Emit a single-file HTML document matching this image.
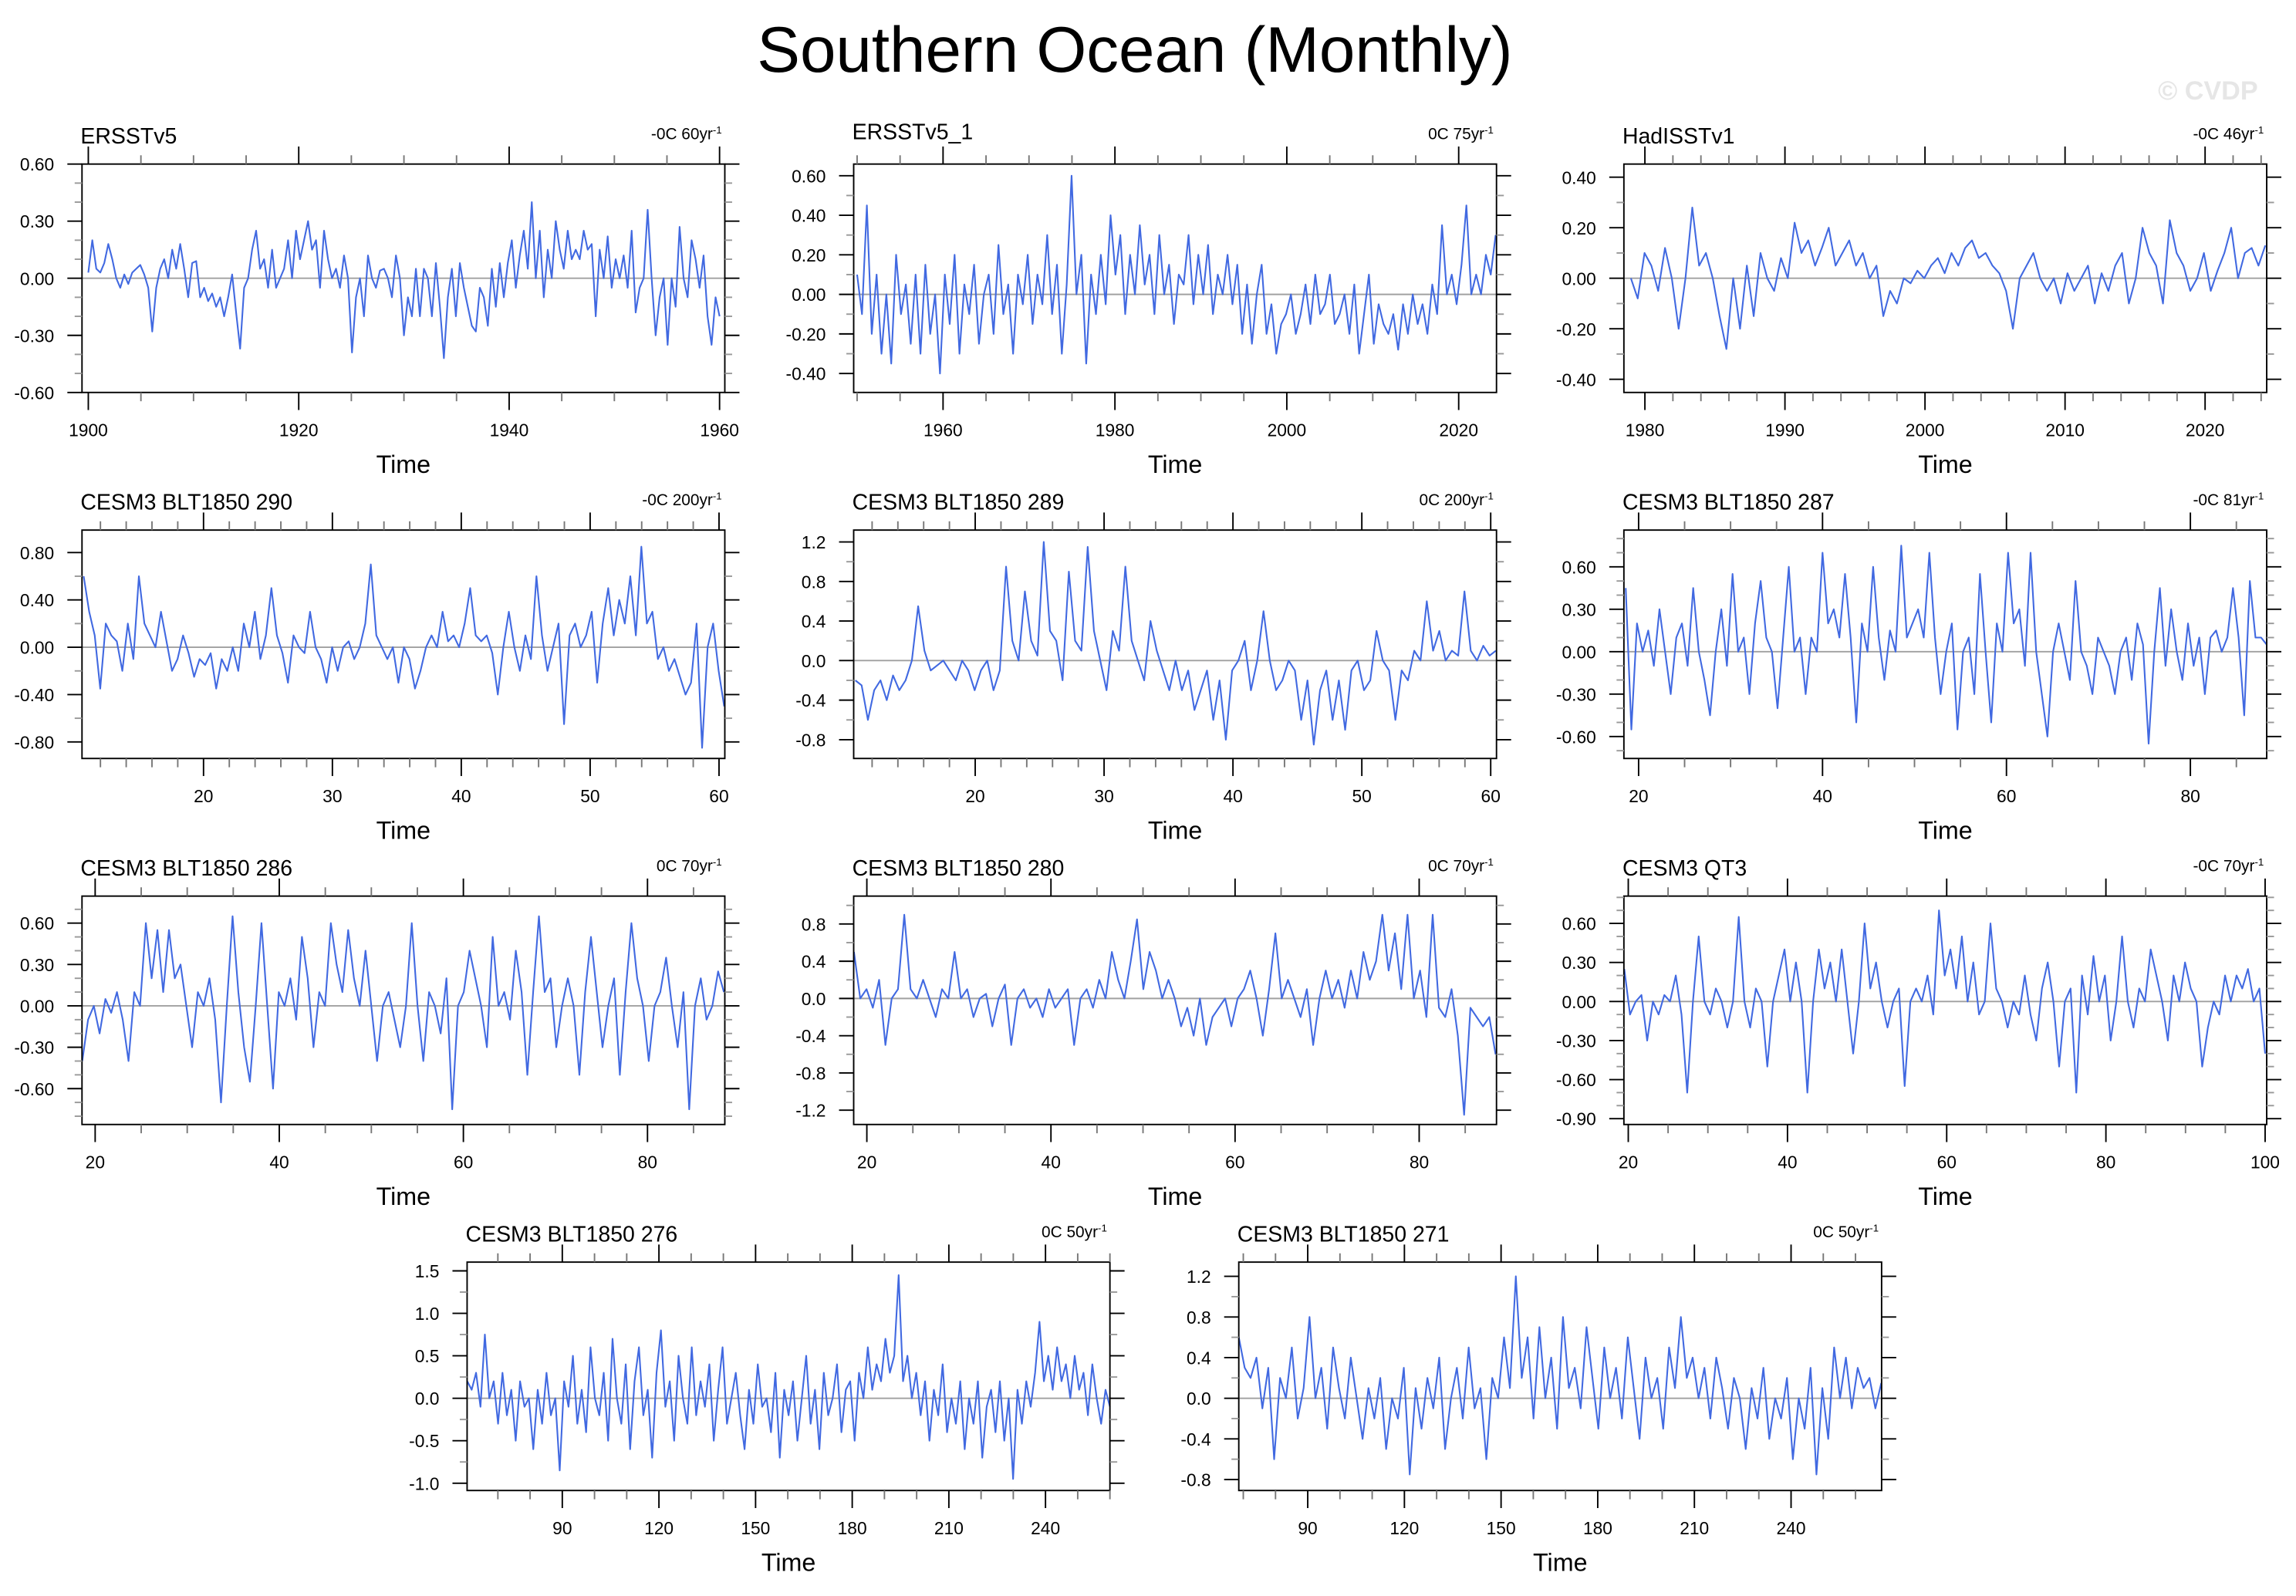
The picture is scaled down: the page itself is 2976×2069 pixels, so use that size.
<!DOCTYPE html>
<html><head><meta charset="utf-8"><style>
html,body{margin:0;padding:0;background:#fff;}
svg{display:block;font-family:"Liberation Sans",sans-serif;}
</style></head><body>
<svg id="fig" width="2976" height="2069" viewBox="0 0 1568 1090" xmlns="http://www.w3.org/2000/svg">
<rect width="1568" height="1090" fill="#fff"/>
<text x="775" y="49" text-anchor="middle" font-size="44">Southern Ocean (Monthly)</text>
<text x="1542" y="68" text-anchor="end" font-size="18" font-weight="bold" fill="#e6e6e6">© CVDP</text>
<g id="panels"></g>
</svg>
<script>
// ---- data arrays ----
const p1Values=[0.03,0.2,0.05,0.03,0.08,0.18,0.1,0.0,-0.05,0.02,-0.03,0.03,0.05,0.07,0.02,-0.05,-0.28,-0.05,0.05,0.1,0.0,0.15,0.05,0.18,0.05,-0.1,0.08,0.09,-0.1,-0.05,-0.12,-0.08,-0.15,-0.1,-0.2,-0.1,0.02,-0.18,-0.37,-0.05,0.0,0.15,0.25,0.05,0.1,-0.05,0.15,-0.05,0.0,0.05,0.2,0.0,0.25,0.1,0.2,0.3,0.15,0.2,-0.05,0.25,0.1,0.0,0.05,-0.05,0.12,0.0,-0.39,-0.1,0.0,-0.2,0.12,0.0,-0.05,0.04,0.05,0.0,-0.1,0.12,0.0,-0.3,-0.1,-0.2,0.05,-0.2,0.05,0.0,-0.2,0.08,-0.15,-0.42,-0.1,0.05,-0.2,0.08,-0.05,-0.15,-0.25,-0.28,-0.05,-0.1,-0.25,0.05,-0.15,0.08,-0.1,0.08,0.2,-0.05,0.12,0.25,0.05,0.4,0.0,0.25,-0.1,0.15,0.0,0.3,0.15,0.05,0.25,0.1,0.15,0.1,0.25,0.15,0.18,-0.2,0.15,0.0,0.22,-0.05,0.1,0.0,0.12,-0.05,0.25,-0.18,-0.05,0.0,0.36,0.0,-0.3,-0.1,0.0,-0.35,0.0,-0.15,0.27,0.0,-0.1,0.2,0.1,-0.05,0.12,-0.2,-0.35,-0.1,-0.2];
const p2Values=[0.1,-0.1,0.45,-0.2,0.1,-0.3,0.0,-0.35,0.2,-0.1,0.05,-0.25,0.1,-0.3,0.15,-0.2,0.0,-0.4,0.1,-0.15,0.2,-0.3,0.05,-0.1,0.15,-0.25,0.0,0.1,-0.2,0.25,-0.1,0.05,-0.3,0.1,-0.05,0.2,-0.15,0.1,-0.05,0.3,-0.1,0.15,-0.3,0.05,0.6,0.0,0.2,-0.35,0.1,-0.1,0.2,-0.05,0.4,0.1,0.3,-0.1,0.2,0.0,0.35,0.05,0.2,-0.1,0.3,0.0,0.15,-0.15,0.1,0.05,0.3,-0.05,0.2,0.0,0.25,-0.1,0.1,0.0,0.2,-0.05,0.15,-0.2,0.05,-0.25,0.0,0.15,-0.2,-0.05,-0.3,-0.15,-0.1,0.0,-0.2,-0.1,0.05,-0.15,0.1,-0.1,-0.05,0.1,-0.15,-0.1,0.0,-0.2,0.05,-0.3,-0.1,0.1,-0.25,-0.05,-0.15,-0.2,-0.1,-0.28,-0.05,-0.2,0.0,-0.15,-0.05,-0.2,0.05,-0.1,0.35,0.0,0.1,-0.05,0.15,0.45,0.0,0.1,0.0,0.2,0.1,0.3];
const p3Values=[0.0,-0.08,0.1,0.05,-0.05,0.12,0.0,-0.2,0.0,0.28,0.05,0.1,0.0,-0.15,-0.28,0.0,-0.2,0.05,-0.15,0.1,0.0,-0.05,0.08,0.0,0.22,0.1,0.15,0.05,0.12,0.2,0.05,0.1,0.15,0.05,0.1,0.0,0.05,-0.15,-0.05,-0.1,0.0,-0.02,0.03,0.0,0.05,0.08,0.02,0.1,0.05,0.12,0.15,0.08,0.1,0.05,0.02,-0.05,-0.2,0.0,0.05,0.1,0.0,-0.05,0.0,-0.1,0.02,-0.05,0.0,0.05,-0.1,0.02,-0.05,0.05,0.1,-0.1,0.0,0.2,0.1,0.05,-0.1,0.23,0.1,0.05,-0.05,0.0,0.1,-0.05,0.03,0.1,0.2,0.0,0.1,0.12,0.05,0.13];
const p4Values=[0.6,0.3,0.1,-0.35,0.2,0.1,0.05,-0.2,0.2,-0.1,0.6,0.2,0.1,0.0,0.3,0.05,-0.2,-0.1,0.1,-0.05,-0.25,-0.1,-0.15,-0.05,-0.35,-0.1,-0.2,0.0,-0.2,0.2,0.0,0.3,-0.1,0.1,0.5,0.1,-0.05,-0.3,0.1,0.0,-0.05,0.3,0.0,-0.1,-0.3,0.0,-0.2,0.0,0.05,-0.1,0.0,0.2,0.7,0.1,0.0,-0.1,0.0,-0.3,0.0,-0.1,-0.35,-0.2,0.0,0.1,0.0,0.3,0.05,0.1,0.0,0.2,0.5,0.1,0.05,0.1,-0.05,-0.4,0.0,0.3,0.0,-0.2,0.1,-0.1,0.6,0.1,-0.2,0.0,0.2,-0.65,0.1,0.2,0.0,0.1,0.3,-0.3,0.2,0.5,0.1,0.4,0.2,0.6,0.1,0.85,0.2,0.3,-0.1,0.0,-0.2,-0.1,-0.25,-0.4,-0.3,0.2,-0.85,0.0,0.2,-0.2,-0.5];
const p5Values=[-0.2,-0.25,-0.6,-0.3,-0.2,-0.4,-0.15,-0.3,-0.2,0.0,0.55,0.1,-0.1,-0.05,0.0,-0.1,-0.2,0.0,-0.1,-0.3,-0.1,0.0,-0.3,-0.1,0.95,0.2,0.0,0.7,0.2,0.05,1.2,0.3,0.2,-0.2,0.9,0.2,0.1,1.15,0.3,0.0,-0.3,0.3,0.1,0.95,0.2,0.0,-0.2,0.4,0.1,-0.1,-0.3,0.0,-0.3,-0.1,-0.5,-0.3,-0.1,-0.6,-0.2,-0.8,-0.1,0.0,0.2,-0.3,0.0,0.5,0.0,-0.3,-0.2,0.0,-0.1,-0.6,-0.2,-0.85,-0.3,-0.1,-0.6,-0.2,-0.7,-0.1,0.0,-0.3,-0.2,0.3,0.0,-0.1,-0.6,-0.1,-0.2,0.1,0.0,0.6,0.1,0.3,0.0,0.1,0.05,0.7,0.1,0.0,0.15,0.05,0.1];
const p6Values=[0.45,-0.55,0.2,0.0,0.15,-0.1,0.3,0.0,-0.3,0.1,0.2,-0.1,0.45,0.0,-0.2,-0.45,0.0,0.3,-0.1,0.55,0.0,0.1,-0.3,0.2,0.5,0.1,0.0,-0.4,0.1,0.6,0.0,0.1,-0.3,0.1,0.0,0.7,0.2,0.3,0.1,0.55,0.1,-0.5,0.2,0.0,0.6,0.1,-0.2,0.15,0.0,0.75,0.1,0.2,0.3,0.1,0.7,0.1,-0.3,0.0,0.2,-0.55,0.0,0.1,-0.3,0.55,0.0,-0.5,0.2,0.0,0.7,0.2,0.3,-0.1,0.7,0.0,-0.3,-0.6,0.0,0.2,0.0,-0.2,0.5,0.0,-0.1,-0.3,0.1,0.0,-0.1,-0.3,0.0,0.1,-0.2,0.2,0.05,-0.65,0.0,0.45,-0.1,0.3,0.0,-0.2,0.2,-0.1,0.1,-0.3,0.1,0.15,0.0,0.1,0.45,0.1,-0.45,0.5,0.1,0.1,0.05];
const p7Values=[-0.4,-0.1,0.0,-0.2,0.05,-0.05,0.1,-0.1,-0.4,0.1,0.0,0.6,0.2,0.55,0.1,0.55,0.2,0.3,0.0,-0.3,0.1,0.0,0.2,-0.1,-0.7,0.0,0.65,0.1,-0.3,-0.55,0.0,0.6,0.0,-0.6,0.1,0.0,0.2,-0.1,0.5,0.2,-0.3,0.1,0.0,0.6,0.3,0.1,0.55,0.2,0.0,0.4,0.0,-0.4,0.0,0.1,-0.1,-0.3,0.0,0.6,0.0,-0.4,0.1,0.0,-0.2,0.2,-0.75,0.0,0.1,0.4,0.2,0.0,-0.3,0.5,0.0,0.1,-0.1,0.4,0.1,-0.5,0.1,0.65,0.1,0.2,-0.3,0.0,0.2,0.0,-0.5,0.1,0.5,0.1,-0.3,0.0,0.2,-0.5,0.1,0.6,0.2,0.0,-0.4,0.0,0.1,0.35,0.0,-0.3,0.1,-0.75,0.0,0.2,-0.1,0.0,0.25,0.1];
const p8Values=[0.5,0.0,0.1,-0.1,0.2,-0.5,0.0,0.1,0.9,0.1,0.0,0.2,0.0,-0.2,0.1,0.0,0.5,0.0,0.1,-0.2,0.0,0.05,-0.3,0.0,0.15,-0.5,0.0,0.1,-0.1,0.0,-0.2,0.1,-0.1,0.0,0.1,-0.5,0.0,0.1,-0.1,0.2,0.0,0.5,0.2,0.0,0.4,0.85,0.1,0.5,0.3,0.0,0.2,0.0,-0.3,-0.1,-0.4,0.0,-0.5,-0.2,-0.1,0.0,-0.3,0.0,0.1,0.3,0.0,-0.4,0.1,0.7,0.0,0.2,0.0,-0.2,0.1,-0.5,0.0,0.3,0.0,0.2,-0.1,0.3,0.0,0.5,0.2,0.4,0.9,0.3,0.7,0.1,0.9,0.0,0.3,-0.2,0.9,-0.1,-0.2,0.1,-0.4,-1.25,-0.1,-0.2,-0.3,-0.2,-0.6];
const p9Values=[0.25,-0.1,0.0,0.05,-0.3,0.0,-0.1,0.05,0.0,0.2,-0.1,-0.7,0.0,0.5,0.0,-0.1,0.1,0.0,-0.2,0.0,0.65,0.0,-0.2,0.1,0.0,-0.5,0.0,0.2,0.4,0.0,0.3,0.0,-0.7,0.0,0.4,0.1,0.3,0.0,0.4,0.0,-0.4,0.0,0.6,0.1,0.3,0.0,-0.2,0.0,0.1,-0.65,0.0,0.1,0.0,0.2,-0.1,0.7,0.2,0.4,0.1,0.5,0.0,0.3,-0.1,0.0,0.6,0.1,0.0,-0.2,0.0,-0.1,0.2,-0.1,-0.3,0.1,0.3,0.0,-0.5,0.0,0.1,-0.7,0.2,-0.1,0.35,0.0,0.2,-0.3,0.0,0.5,0.0,-0.2,0.1,0.0,0.4,0.2,0.0,-0.3,0.2,0.0,0.3,0.1,0.0,-0.5,-0.2,0.0,-0.1,0.2,0.0,0.2,0.1,0.25,0.0,0.1,-0.4];
const p10Values=[0.2,0.1,0.3,-0.1,0.75,0.0,0.2,-0.3,0.3,-0.2,0.1,-0.5,0.2,-0.1,0.0,-0.6,0.1,-0.3,0.3,-0.2,0.0,-0.85,0.2,-0.1,0.5,-0.3,0.1,-0.4,0.6,0.0,-0.2,0.3,-0.5,0.7,0.0,-0.3,0.4,-0.6,0.2,0.6,-0.2,0.1,-0.7,0.3,0.8,-0.1,0.2,-0.5,0.5,0.0,-0.3,0.6,-0.2,0.2,-0.1,0.4,-0.5,0.1,0.6,-0.3,0.0,0.3,-0.2,-0.6,0.1,-0.3,0.4,-0.1,0.0,-0.4,0.3,-0.7,0.1,-0.2,0.2,-0.5,0.0,0.5,-0.3,0.1,-0.6,0.3,-0.2,0.0,0.4,-0.4,0.1,0.2,-0.5,0.3,0.0,0.6,0.1,0.4,0.2,0.7,0.3,0.5,1.45,0.2,0.5,0.0,0.3,-0.2,0.2,-0.5,0.1,-0.2,0.4,-0.4,0.0,-0.3,0.2,-0.6,0.0,-0.3,0.2,-0.7,-0.1,0.1,-0.4,0.2,-0.5,0.0,-0.95,0.1,-0.3,0.2,-0.1,0.3,0.9,0.2,0.5,0.1,0.6,0.2,0.4,0.0,0.5,0.1,0.3,-0.2,0.4,0.0,-0.3,0.1,-0.1];
const p11Values=[0.6,0.3,0.2,0.4,-0.1,0.3,-0.6,0.2,0.0,0.5,-0.2,0.1,0.8,0.0,0.3,-0.3,0.5,0.1,-0.2,0.4,0.0,-0.4,0.1,-0.2,0.2,-0.5,0.0,-0.2,0.3,-0.75,0.1,-0.3,0.2,-0.1,0.4,-0.5,0.0,0.3,-0.2,0.5,-0.1,0.1,-0.6,0.2,0.0,0.6,0.1,1.2,0.2,0.6,-0.2,0.7,0.0,0.4,-0.3,0.8,0.1,0.3,-0.1,0.7,0.2,-0.3,0.5,0.0,0.3,-0.2,0.6,0.1,-0.4,0.4,0.0,0.2,-0.3,0.5,0.1,0.8,0.2,0.4,0.0,0.3,-0.2,0.4,0.1,-0.3,0.2,0.0,-0.5,0.1,-0.2,0.3,-0.4,0.0,-0.2,0.2,-0.6,0.0,-0.3,0.3,-0.75,0.1,-0.4,0.5,0.0,0.4,-0.1,0.3,0.1,0.2,-0.1,0.15];

const panelNames=["ERSSTv5","ERSSTv5_1","HadISSTv1","CESM3 BLT1850 290","CESM3 BLT1850 289","CESM3 BLT1850 287","CESM3 BLT1850 286","CESM3 BLT1850 280","CESM3 QT3","CESM3 BLT1850 276","CESM3 BLT1850 271"];
const trendLabels=["-0C 60yr","0C 75yr","-0C 46yr","-0C 200yr","0C 200yr","-0C 81yr","0C 70yr","0C 70yr","-0C 70yr","0C 50yr","0C 50yr"];
const seriesValues=[p1Values,p2Values,p3Values,p4Values,p5Values,p6Values,p7Values,p8Values,p9Values,p10Values,p11Values];
const seriesStart=[1900,1950,1979,10.7,10.7,18.6,18.6,18.6,19.5,60.5,68.6];
const seriesEnd=[1960,2024.3,2024.3,60.4,60.4,88.3,88.3,88.3,100,260,268];
const xDomains=[[1899.4,1960.5],[1949.6,2024.4],[1978.5,2024.4],[10.57,60.45],[10.57,60.45],[18.4,88.3],[18.57,88.4],[18.57,88.4],[19.45,100.2],[60.45,260],[68.6,268.1]];
const yDomains=[[-0.6,0.6],[-0.496,0.659],[-0.452,0.452],[-0.94,0.99],[-0.99,1.32],[-0.755,0.86],[-0.86,0.796],[-1.354,1.10],[-0.945,0.81],[-1.086,1.603],[-0.908,1.34]];
const xTickLabels=[[1900,1920,1940,1960],[1960,1980,2000,2020],[1980,1990,2000,2010,2020],[20,30,40,50,60],[20,30,40,50,60],[20,40,60,80],[20,40,60,80],[20,40,60,80],[20,40,60,80,100],[90,120,150,180,210,240],[90,120,150,180,210,240]];
const xMinorSteps=[5,5,2,2,2,5,5,5,5,10,10];
const yTickLabels=[["0.60","0.30","0.00","-0.30","-0.60"],["0.60","0.40","0.20","0.00","-0.20","-0.40"],["0.40","0.20","0.00","-0.20","-0.40"],["0.80","0.40","0.00","-0.40","-0.80"],["1.2","0.8","0.4","0.0","-0.4","-0.8"],["0.60","0.30","0.00","-0.30","-0.60"],["0.60","0.30","0.00","-0.30","-0.60"],["0.8","0.4","0.0","-0.4","-0.8","-1.2"],["0.60","0.30","0.00","-0.30","-0.60","-0.90"],["1.5","1.0","0.5","0.0","-0.5","-1.0"],["1.2","0.8","0.4","0.0","-0.4","-0.8"]];
const yMinorSteps=[0.1,0.1,0.1,0.2,0.2,0.1,0.1,0.2,0.1,0.25,0.2];

// layout (box positions)
const boxX=[56,583,1109,56,583,1109,56,583,1109,319,846];
const boxY=[112,112,112,362,362,362,612,612,612,862,862];
const titleDy=[14,17,14,14,14,14,14,14,14,14,14];
const BW=439,BH=156;
const NS="http://www.w3.org/2000/svg";
const root=document.getElementById('panels');
function mk(tag,attrs,parent){const e=document.createElementNS(NS,tag);for(const k in attrs)e.setAttribute(k,attrs[k]);parent.appendChild(e);return e;}

for(let i=0;i<panelNames.length;i++){
  const bx=boxX[i],by=boxY[i];
  const [x0,x1]=xDomains[i],[y0,y1]=yDomains[i];
  const sx=v=>bx+(v-x0)/(x1-x0)*BW;
  const sy=v=>by+BH-(v-y0)/(y1-y0)*BH;
  const g=mk('g',{},root);
  
  
  const t=mk('text',{x:bx-1,y:by-titleDy[i],'font-size':15},g);t.textContent=panelNames[i];
  
  
  const tr=mk('text',{x:bx+BW-2,y:by-17,'font-size':11,'text-anchor':'end'},g);
  
  
  tr.appendChild(document.createTextNode(trendLabels[i]));
  const sup=mk('tspan',{dy:-4,'font-size':7},tr);sup.textContent='-1';
  const zl=mk('line',{x1:bx,x2:bx+BW,y1:sy(0),y2:sy(0),stroke:'#a0a0a0','stroke-width':1},g);
  
  
  const vals=seriesValues[i],n=vals.length,s0=seriesStart[i],s1=seriesEnd[i];
  let d='';
  for(let k=0;k<n;k++){const xv=s0+(s1-s0)*k/(n-1);d+=(k?'L':'M')+sx(xv).toFixed(2)+','+sy(vals[k]).toFixed(2);}
  const pl=mk('path',{d:d,fill:'none',stroke:'#4169e1','stroke-width':1.1,'stroke-linejoin':'round'},g);
  
  
  const bxr=mk('rect',{x:bx,y:by,width:BW,height:BH,fill:'none',stroke:'#000','stroke-width':1},g);
  
  
  const ms=xMinorSteps[i];
  for(let v=Math.ceil(x0/ms)*ms;v<=x1;v+=ms){
    const X=sx(v);const major=xTickLabels[i].indexOf(Math.round(v))>=0;const L=major?12:6;
    mk('line',{x1:X,x2:X,y1:by+BH,y2:by+BH+L,stroke:major?'#000':'#777','stroke-width':1},g);
    mk('line',{x1:X,x2:X,y1:by,y2:by-L,stroke:major?'#000':'#777','stroke-width':1},g);
  }
  xTickLabels[i].forEach(v=>{const tx=mk('text',{x:sx(v),y:by+BH+30,'font-size':12,'text-anchor':'middle'},g);tx.textContent=v;
    
    });
  const ys=yMinorSteps[i];
  const majorVals=yTickLabels[i].map(Number);
  for(let v=Math.ceil(y0/ys-1e-6)*ys;v<=y1+1e-9;v+=ys){
    const Y=sy(v);const major=majorVals.some(m=>Math.abs(m-v)<1e-6);const L=major?10:5;
    mk('line',{x1:bx,x2:bx-L,y1:Y,y2:Y,stroke:major?'#000':'#999','stroke-width':1},g);
    mk('line',{x1:bx+BW,x2:bx+BW+L,y1:Y,y2:Y,stroke:major?'#000':'#999','stroke-width':1},g);
  }
  yTickLabels[i].forEach(lbl=>{const ty=mk('text',{x:bx-19,y:sy(Number(lbl))+4.5,'font-size':12,'text-anchor':'end'},g);ty.textContent=lbl;
    
    });
  const xt=mk('text',{x:bx+BW/2,y:by+BH+55,'font-size':17,'text-anchor':'middle'},g);xt.textContent='Time';
  
  
}
</script>
</body></html>
